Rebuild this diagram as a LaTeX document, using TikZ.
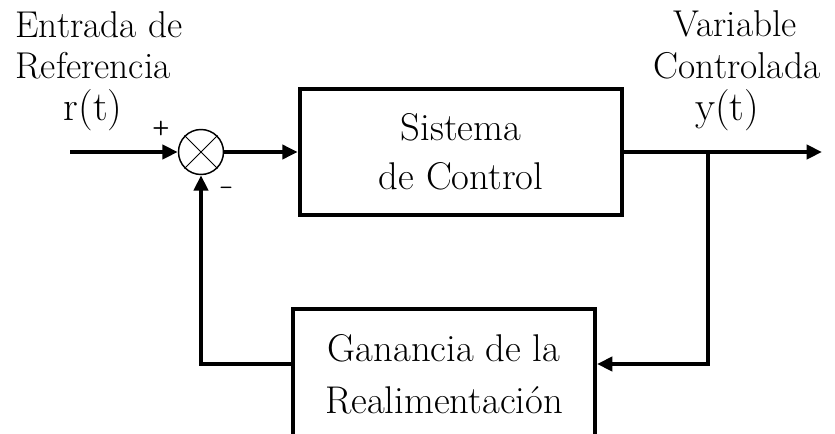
\documentclass[tikz,border=0pt]{standalone}
\usepackage{fontspec}
\usetikzlibrary{arrows.meta}

\tikzset{every picture/.style={line width=0.75pt}}
\tikzset{
  block/.style={draw, rectangle, line width=3pt, align=center, inner sep=0pt},
  sumnode/.style={draw, circle, line width=1.1pt, minimum size=33.75pt, inner sep=0pt},
  wire/.style={line width=3pt},
  flow/.style={wire, -{Triangle[length=11.5pt,width=10.5pt]}},
  lbl/.style={font=\fontsize{28}{31}\selectfont, inner sep=0pt},
  sig/.style={font=\fontsize{31}{31}\selectfont, inner sep=0pt},
  sgn/.style={font=\sffamily\bfseries\fontsize{15}{15}\selectfont, inner sep=0pt}
}

\begin{document}
\begin{tikzpicture}[x=0.75pt,y=0.75pt,yscale=-1,xscale=1]
\useasboundingbox (0,0) rectangle (835,433);

%Summing junction
\node [sumnode] (sum) at (201,152) {};
\draw (sum.north west) -- (sum.south east);
\draw (sum.north east) -- (sum.south west);

%Blocks
\node [block, minimum width=242pt, minimum height=94pt, font=\fontsize{29}{37}\selectfont] (plant) at (461,152) {Sistema\\de Control};
\node [block, minimum width=226.5pt, minimum height=97.5pt, font=\fontsize{29}{39}\selectfont] (gain) at (444,374) {Ganancia de la\\Realimentación};

%Free ends and corners
\coordinate (in) at (70,152);
\coordinate (out) at (822,152);
\coordinate (branch) at (708,152);
\coordinate (turn) at (708,364);
\coordinate (back) at (201,364);

%Connectors
\draw [flow] (in) -- (sum.west);
\draw [flow] (sum.east) -- (plant.west);
\draw [flow] (plant.east) -- (out);
\draw [flow] (branch) -- (turn) -- (turn -| gain.east);
\draw [flow] (gain.west |- back) -- (back) -- (sum.south);

% Text Node
\node [lbl, anchor=base west] (reftop) at (15,37) {Entrada de};
% Text Node
\node [lbl, anchor=base west] (refbot) at (15,78) {Referencia};
% Text Node
\node [sig, anchor=base] (rt) at (93,120) {r(t)};
% Text Node
\node [lbl, anchor=base] (vartop) at (735,36) {Variable};
% Text Node
\node [lbl, anchor=base] (varbot) at (737,78) {Controlada};
% Text Node
\node [sig, anchor=base] (yt) at (727,120) {y(t)};
% Text Node
\node [sgn] (plus) at (161,128) {+};
% Text Node
\node [sgn] (minus) at (226,190) {--};

\end{tikzpicture}
\end{document}
